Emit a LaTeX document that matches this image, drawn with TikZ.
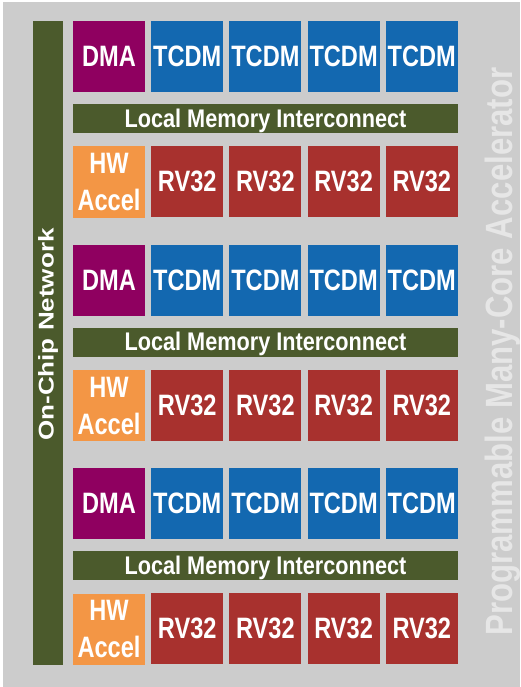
\documentclass[tikz,border=0pt]{standalone}
\usepackage{fontspec}
\setmainfont{Liberation Sans}
\usepackage{graphicx}

% palette
\definecolor{panelgray}{HTML}{CCCCCC}
\definecolor{titlegray}{HTML}{E6E6E6}
\definecolor{busgreen}{HTML}{4B5A2C}
\definecolor{dmapurple}{HTML}{8F0060}
\definecolor{tcdmblue}{HTML}{1368B0}
\definecolor{rvred}{HTML}{A8312E}
\definecolor{hworange}{HTML}{F39645}

% condensed label text
\newcommand{\hsq}[1]{\scalebox{0.80}[1]{#1}}

\begin{document}
\begin{tikzpicture}[x=1pt,y=-1pt,
  unit/.style={rectangle, inner sep=0pt, outer sep=0pt,
    minimum width=72pt, minimum height=71pt, text=white,
    font=\bfseries\fontsize{29.5}{37}\selectfont},
  oneline/.style={text height=20.3pt, text depth=0pt},
  bus/.style={rectangle, inner sep=0pt, outer sep=0pt, fill=busgreen,
    minimum width=385pt, minimum height=29pt, text=white,
    font=\bfseries\fontsize{25.5}{30}\selectfont,
    text height=17.5pt, text depth=0pt},
]
\useasboundingbox (0,0) rectangle (520,687);
\fill[panelgray] (3,2) rectangle (520,687);

% on-chip network bar
\node[rectangle, inner sep=0pt, fill=busgreen, minimum width=30pt,
  minimum height=644pt] (noc) at (48,343) {};
\node[rotate=90, inner sep=0pt, text=white,
  font=\bfseries\fontsize{26}{30}\selectfont,
  text height=14.7pt, text depth=0pt] (noclabel) at (46.3,334.5)
  {\scalebox{1}[0.82]{On-Chip Network}};

% three clusters
\foreach \k in {0,1,2}{
  \pgfmathsetmacro{\off}{223.5*\k}
  \node[unit, oneline, fill=dmapurple] (dma\k) at (109,56.5+\off) {\hsq{DMA}};
  \foreach \j in {1,...,4}{
    \node[unit, oneline, fill=tcdmblue] (tcdm\k-\j) at (109+78.2*\j,56.5+\off) {\hsq{TCDM}};
    \node[unit, oneline, fill=rvred] (rv\k-\j) at (109+78.2*\j,181.5+\off) {\hsq{RV32}};
  }
  \node[bus] (lmi\k) at (265.5,118.5+\off)
    {\scalebox{0.85}[1]{Local Memory Interconnect}};
  \node[unit, fill=hworange, align=center] (hw\k) at (109,182+\off)
    {\hsq{HW}\\\hsq{Accel}};
}

% accelerator title
\node[rotate=90, inner sep=0pt, text=titlegray,
  font=\bfseries\fontsize{38}{44}\selectfont,
  text height=26.1pt, text depth=0pt] (title) at (499,351.5)
  {\scalebox{0.82}[1]{Programmable Many-Core Accelerator}};
\end{tikzpicture}
\end{document}
